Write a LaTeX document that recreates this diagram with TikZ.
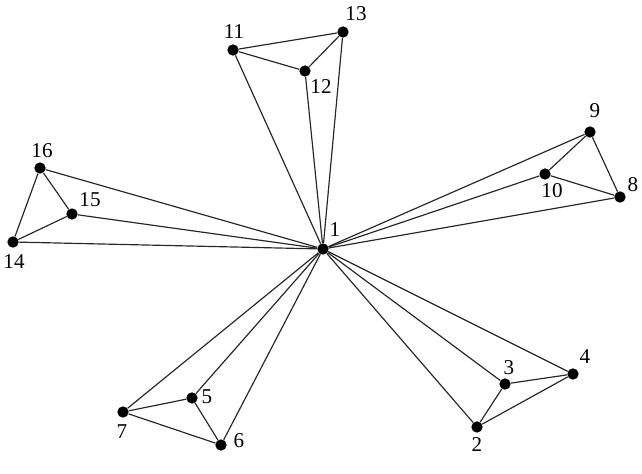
\documentclass[tikz,border=0pt]{standalone}
\usepackage{fontspec}
\setmainfont{Liberation Serif}
\tikzset{
    vertex/.style={circle, fill=black, inner sep=0pt, minimum size=0.34cm},
    num/.style={font=\fontsize{18}{20}\selectfont, inner sep=0pt},
    edge/.style={line width=1pt, black!85}
}
\begin{document}
\begin{tikzpicture}[x=0.03cm, y=-0.03cm]
    \useasboundingbox (0,0) rectangle (642,473);

    % Vertices
    \foreach \n/\x/\y in {1/323/249, 2/477/427, 3/505/384, 4/573/374,
                          5/192/398, 6/221/445, 7/123/412, 8/620/197,
                          9/590/132, 10/545/174, 11/233/50, 12/305/71,
                          13/343/32, 14/13/242, 15/72/214, 16/40/168}
        \node [vertex] (v\n) at (\x,\y) {};

    % Labels
    \foreach \n/\x/\y in {1/335/230, 2/477/445, 3/509/368, 4/585/357,
                          5/207/397, 6/239/441, 7/122/432, 8/633/185,
                          9/595/111, 10/552/191, 11/234/32, 12/321/87,
                          13/356/14, 14/14/262, 15/90/200, 16/42/151}
        \node [num] (l\n) at (\x,\y) {\n};

    % Spokes from the centre
    \foreach \n in {2,...,16}
        \draw [edge] (v1) -- (v\n);

    % Triangles
    \foreach \a/\b/\c in {2/3/4, 5/6/7, 8/9/10, 11/12/13, 14/15/16}
        \draw [edge] (v\a) -- (v\b) -- (v\c) -- (v\a);
\end{tikzpicture}
\end{document}
